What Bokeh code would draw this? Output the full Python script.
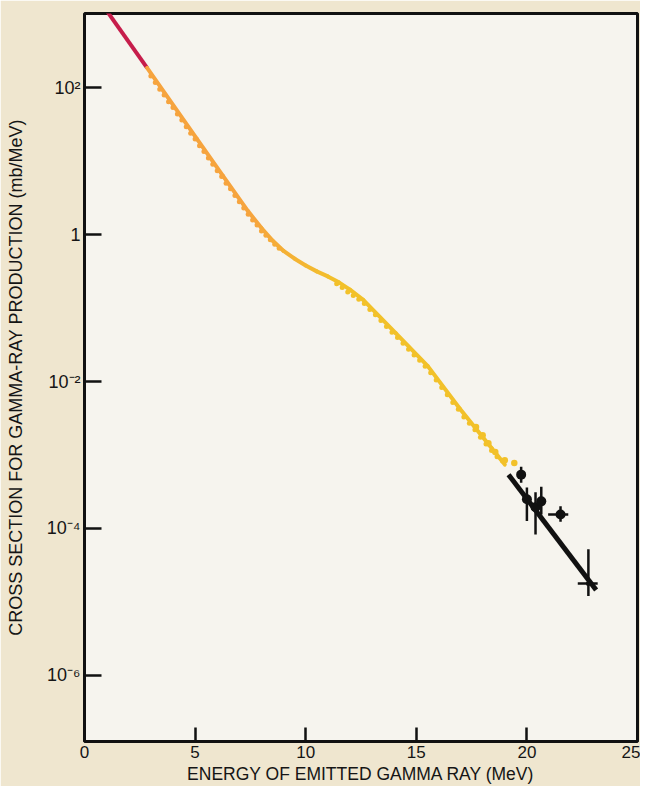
from bokeh.plotting import figure
from bokeh.models import FixedTicker, CustomJSTickFormatter, Range1d
from bokeh.embed import file_html
from bokeh.resources import INLINE

# ---- data (energy in MeV, cross section in mb/MeV) ----
# low-energy part of the calculated curve (red)
red_x = [1.0, 2.83]
red_y = [1120.0, 186.0]

# calculated curve (orange -> yellow)
curve_x = [2.83, 5.09, 6.26, 7.39, 8.0, 8.5, 9.0, 9.5, 10.0, 10.5, 11.0, 11.5,
           12.0, 12.6, 14.07, 15.52, 16.97, 18.42, 19.0]
curve_y = [186.0, 20.0, 6.3, 2.09, 1.23, 0.83, 0.60, 0.47, 0.38, 0.316, 0.27,
           0.224, 0.178, 0.129, 0.0457, 0.0162, 0.00427, 0.00123, 7.4e-4]

# measured points along the curve (small dots)
dots_x = [3.0, 3.2, 3.4, 3.6, 3.8, 4.0, 4.2, 4.4, 4.6, 4.8, 5.0, 5.2, 5.4, 5.6,
          5.8, 6.0, 6.2, 6.4, 6.6, 6.8, 7.0, 7.2, 7.4, 7.6, 7.8, 8.0, 8.2, 8.4,
          8.6, 8.8,
          11.4, 11.65, 11.9, 12.15, 12.4, 12.65, 12.9, 13.15, 13.4, 13.65, 13.9,
          14.15, 14.4, 14.65, 14.9, 15.15, 15.4, 15.65, 15.9, 16.15, 16.4, 16.65,
          16.9, 17.15, 17.4, 17.65, 17.9, 18.15, 18.4, 18.65, 18.9]
dots_y = [144.5, 117.5, 95.5, 79.4, 64.6, 53.7, 43.7, 36.3, 29.5, 24.0, 20.0,
          16.2, 13.5, 11.0, 9.1, 7.4, 6.2, 5.0, 4.2, 3.4, 2.8, 2.3, 1.9, 1.58,
          1.35, 1.12, 0.98, 0.85, 0.74, 0.65,
          0.214, 0.191, 0.166, 0.148, 0.132, 0.115, 0.0955, 0.0813, 0.0676,
          0.0562, 0.0468, 0.0398, 0.0331, 0.0275, 0.0229, 0.0195, 0.0162,
          0.0132, 0.0105, 0.0083, 0.0066, 0.0052, 0.0042, 0.0033, 0.0027,
          0.0022, 0.00174, 0.00141, 0.00115, 0.00095, 0.00083]
end_dots_x = [17.7, 18.0, 18.26, 18.57, 19.0, 19.43]
end_dots_y = [0.0024, 0.00186, 0.00145, 0.0011, 0.00085, 0.00078]

# high-energy measurements (black) with error bars
pts_x = [19.74, 20.0, 20.39, 20.65, 21.52, 22.78]
pts_y = [5.4e-4, 2.5e-4, 1.95e-4, 2.34e-4, 1.55e-4, 1.78e-5]
pts_lo = [4.2e-4, 1.26e-4, 8.3e-5, 1.55e-4, 1.23e-4, 1.2e-5]
pts_hi = [6.9e-4, 3.6e-4, 3.1e-4, 3.7e-4, 2.0e-4, 5.2e-5]
hbar_x0 = [20.96, 22.3]
hbar_x1 = [21.87, 23.2]
hbar_y = [1.55e-4, 1.78e-5]

# fitted straight line through the high-energy points
fit_x = [19.17, 23.13]
fit_y = [5.4e-4, 1.45e-5]

x_ticks = [0, 5, 10, 15, 20, 25]
y_ticks = [1e-6, 1e-4, 1e-2, 1, 1e2]

# ---- styling helpers ----
ORANGE = (246, 164, 62)
YELLOW = (242, 193, 42)


def blend(x):
    t = min(max((x - 7.5) / 4.0, 0.0), 1.0)
    c = [round(a * (1 - t) + b * t) for a, b in zip(ORANGE, YELLOW)]
    return "#%02x%02x%02x" % tuple(c)


FONT = "Liberation Sans"

p = figure(width=640, height=786, y_axis_type="log",
           x_range=Range1d(0, 25), y_range=Range1d(10 ** -6.9, 10 ** 3.01),
           output_backend="svg", toolbar_location=None,
           min_border_left=84, min_border_right=3, min_border_top=13,
           min_border_bottom=44,
           background_fill_color="#f6f4ee", border_fill_color="#efe6cf",
           outline_line_color="#111111", outline_line_width=3)

p.grid.visible = False

# curve
p.line(red_x, red_y, line_color="#c61d4b", line_width=4)
seg_xs = [[curve_x[i], curve_x[i + 1]] for i in range(len(curve_x) - 1)]
seg_ys = [[curve_y[i], curve_y[i + 1]] for i in range(len(curve_y) - 1)]
seg_c = [blend((curve_x[i] + curve_x[i + 1]) / 2) for i in range(len(curve_x) - 1)]
p.multi_line(seg_xs, seg_ys, line_color=seg_c, line_width=4, line_cap="round")

p.scatter(dots_x, dots_y, size=5, marker="circle",
          fill_color=[blend(x) for x in dots_x], line_color=None)
p.scatter(end_dots_x, end_dots_y, size=6.5, marker="circle",
          fill_color="#f2c12a", line_color=None)

# fit line and black points
p.line(fit_x, fit_y, line_color="#111111", line_width=5)
p.segment(x0=pts_x, y0=pts_lo, x1=pts_x, y1=pts_hi, line_color="#111111",
          line_width=2.5)
p.segment(x0=hbar_x0, y0=hbar_y, x1=hbar_x1, y1=hbar_y, line_color="#111111",
          line_width=2.5)
p.scatter(pts_x[:5], pts_y[:5], size=10, marker="circle",
          fill_color="#111111", line_color=None)
p.scatter(pts_x[5:], pts_y[5:], size=5, marker="circle",
          fill_color="#111111", line_color=None)

# axes
for ax in (p.xaxis[0], p.yaxis[0]):
    ax.axis_line_color = None
    ax.major_tick_out = 0
    ax.major_tick_line_color = "#111111"
    ax.major_tick_line_width = 2.5
    ax.minor_tick_line_color = None
    ax.major_label_text_font = FONT
    ax.major_label_text_color = "#151515"
    ax.axis_label_text_font = FONT
    ax.axis_label_text_font_style = "normal"
    ax.axis_label_text_color = "#151515"

p.xaxis.ticker = FixedTicker(ticks=x_ticks)
p.xaxis.major_tick_in = 14
p.xaxis.major_label_text_font_size = "17px"
p.xaxis.major_label_standoff = 4
p.xaxis.axis_label = "ENERGY OF EMITTED GAMMA RAY (MeV)"
p.xaxis.axis_label_text_font_size = "17.5px"
p.xaxis.axis_label_standoff = 3

p.yaxis.ticker = FixedTicker(ticks=y_ticks)
p.yaxis.major_tick_in = 17
p.yaxis.major_label_text_font_size = "18px"
p.yaxis.major_label_standoff = 4
p.yaxis.formatter = CustomJSTickFormatter(code="""
const e = Math.round(Math.log10(tick));
if (e === 0) { return '1'; }
const sup = {'-': '\u207b', '0': '\u2070', '1': '\u00b9', '2': '\u00b2', '3': '\u00b3',
             '4': '\u2074', '5': '\u2075', '6': '\u2076', '7': '\u2077', '8': '\u2078', '9': '\u2079'};
return '10' + String(e).split('').map(c => sup[c]).join('');
""")
p.yaxis.axis_label = "CROSS SECTION FOR GAMMA-RAY PRODUCTION (mb/MeV)"
p.yaxis.axis_label_text_font_size = "18px"
p.yaxis.axis_label_standoff = 18

open("out.html", "w").write(file_html(p, INLINE))
